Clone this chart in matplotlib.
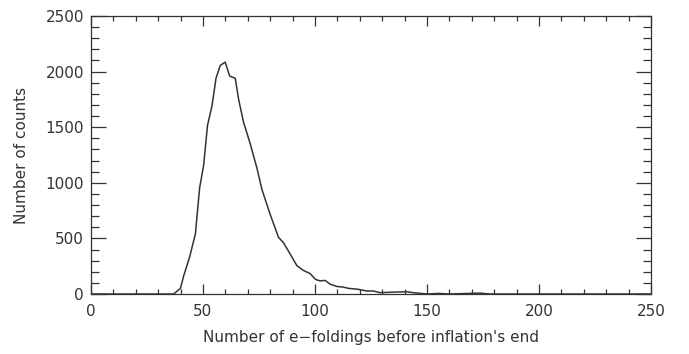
import matplotlib
matplotlib.use("Agg")
import matplotlib.pyplot as plt
from matplotlib.ticker import MultipleLocator

# Histogram of e-foldings
efolds = [0, 30, 36.9, 39.9, 41.4, 44.0, 46.6, 48.5, 50.3, 52.0, 54.0, 55.8, 57.7,
          59.9, 61.9, 64.4, 65.9, 68.1, 71.1, 74.1, 76.3, 80.0, 83.7, 85.9, 88.9,
          91.9, 94.8, 97.8, 100.3, 102.3, 104.5, 106.7, 109.7, 112.7, 114.9,
          119.3, 123.1, 126.0, 129.0, 136.5, 141.0, 143.9, 146.8, 150.0, 155.0,
          160.0, 173.6, 178.0, 250]
counts = [0, 0, 0, 50, 165, 330, 540, 955, 1160, 1515, 1690, 1940, 2055,
          2085, 1960, 1940, 1750, 1545, 1350, 1130, 940, 715, 510, 462, 360,
          255, 212, 184, 130, 118, 122, 89, 68, 62, 51,
          42, 27, 27, 12, 18, 20, 12, 6, 0, 5,
          0, 8, 0, 0]

xticks = [0, 50, 100, 150, 200, 250]
yticks = [0, 500, 1000, 1500, 2000, 2500]

ink = "#333333"
fig = plt.figure(figsize=(6.89, 3.54), dpi=100)
ax = fig.add_axes([91/689, 1-294/354, (651-91)/689, (294-16)/354])
ax.plot(efolds, counts, color=ink, lw=1.1)

ax.set_xlim(0, 250)
ax.set_ylim(0, 2500)
ax.set_xticks(xticks)
ax.set_yticks(yticks)
ax.xaxis.set_minor_locator(MultipleLocator(10))
ax.yaxis.set_minor_locator(MultipleLocator(100))
ax.tick_params(which="both", direction="in", top=True, right=True, colors=ink,
               labelsize=11, width=0.9)
ax.tick_params(axis="x", which="major", length=7, pad=7)
ax.tick_params(axis="x", which="minor", length=3.5)
ax.tick_params(axis="y", which="major", length=11, pad=5)
ax.tick_params(axis="y", which="minor", length=6)
for s in ax.spines.values():
    s.set_color(ink)
    s.set_linewidth(0.9)
for lab in ax.get_xticklabels() + ax.get_yticklabels():
    lab.set_color(ink)

ax.set_xlabel("Number of e\u2212foldings before inflation's end", fontsize=11,
              color=ink, labelpad=8)
ax.set_ylabel("Number of counts", fontsize=11, color=ink, labelpad=12)

fig.savefig("out.png", dpi=100)
